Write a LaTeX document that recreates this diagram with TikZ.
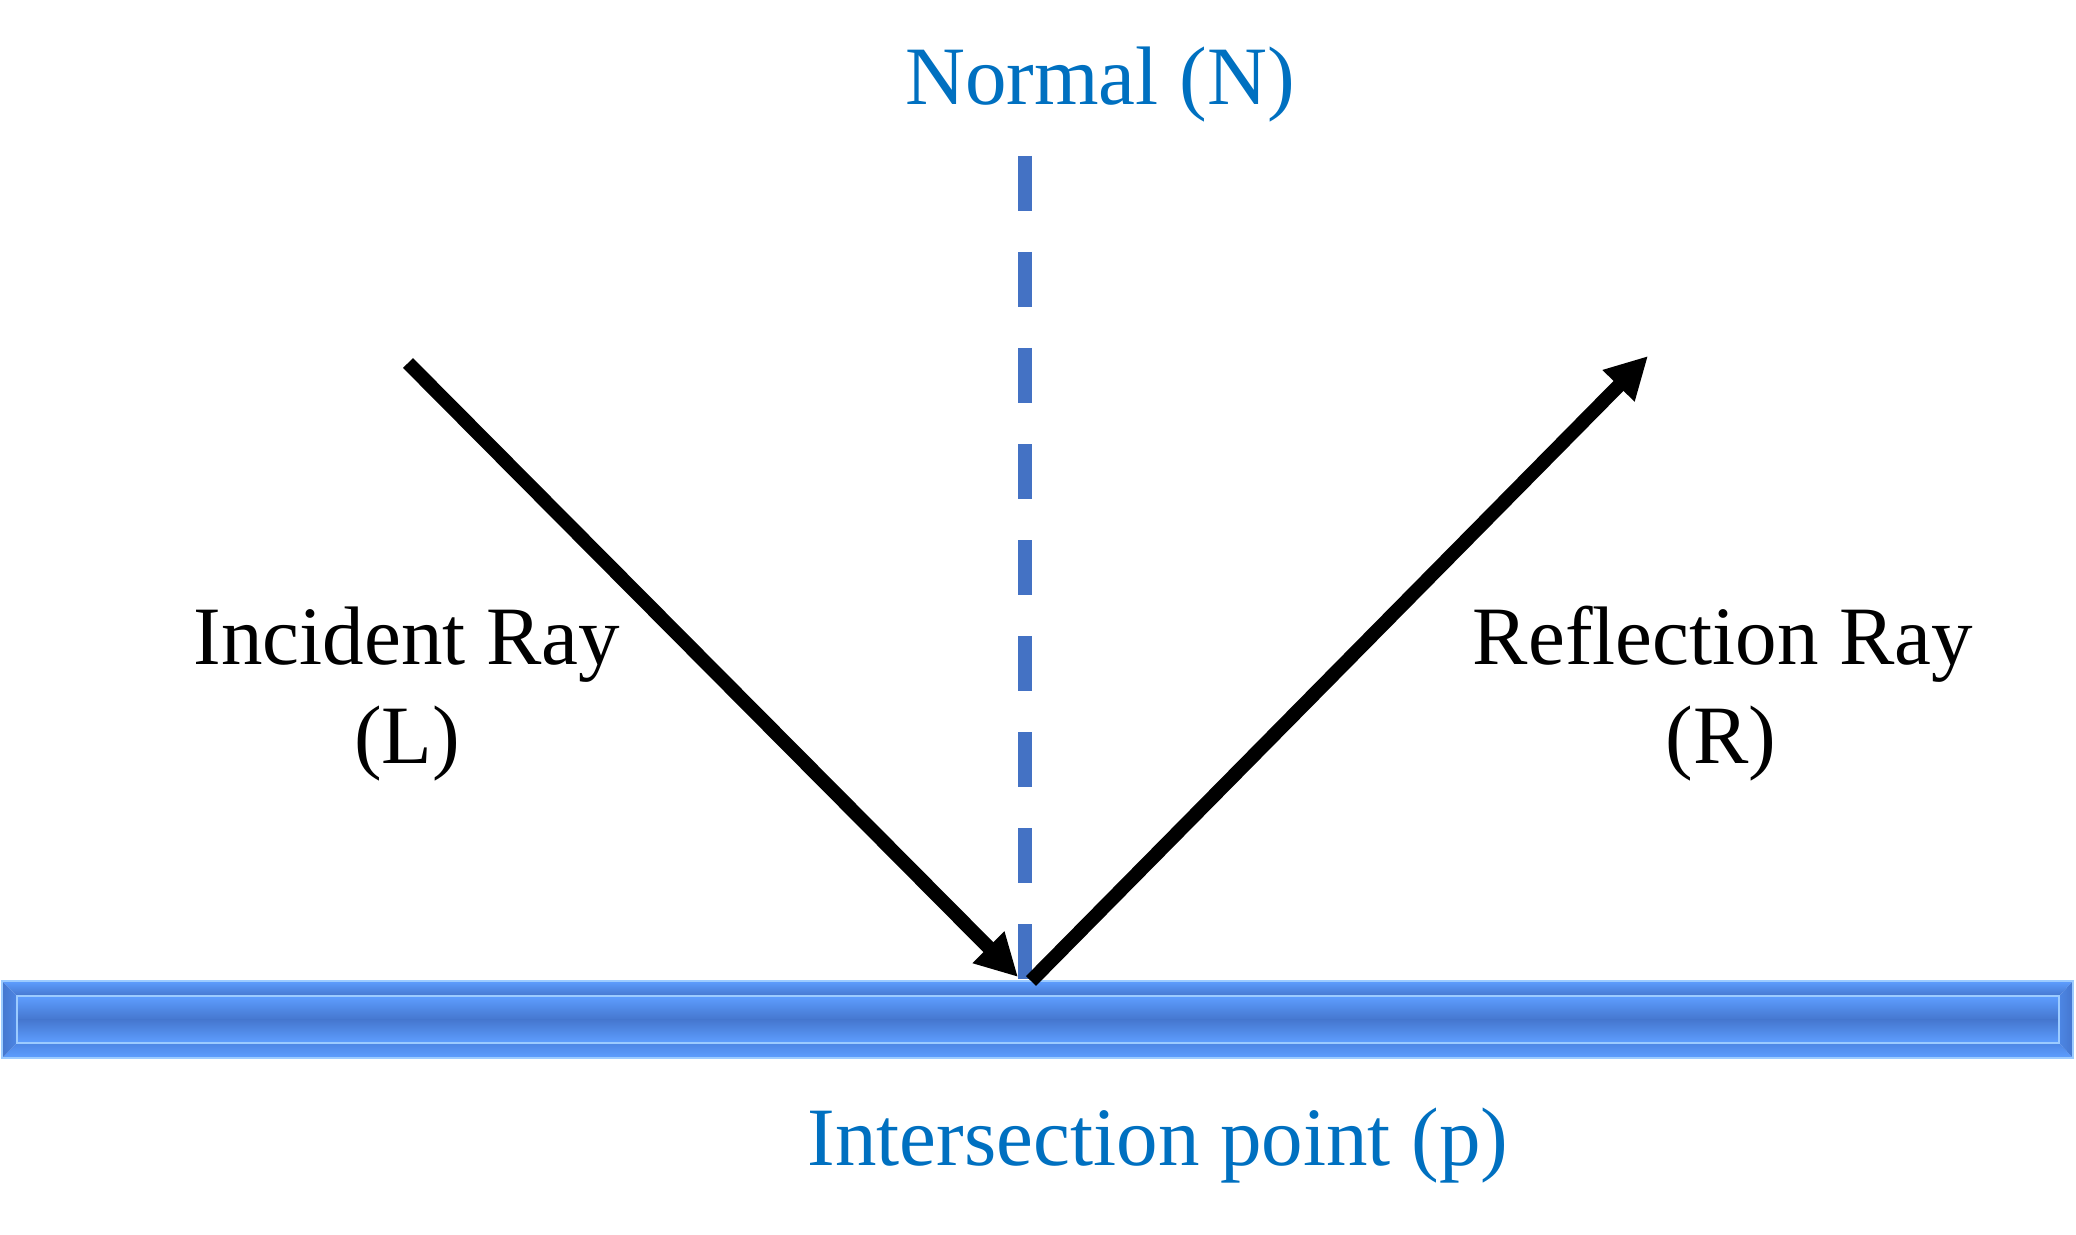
\documentclass[tikz,border=0pt]{standalone}
\usepackage{fontspec}
\setmainfont{Liberation Serif}
\usetikzlibrary{arrows.meta}
\definecolor{txtblue}{HTML}{0070C0}
\definecolor{normblue}{HTML}{4472C4}
\definecolor{barlight}{HTML}{5E9EFF}
\definecolor{bardark}{HTML}{4577CF}
\definecolor{barmid}{HTML}{4D86E4}
\definecolor{barline}{HTML}{9CCBFF}
\tikzset{
  lbl/.style={anchor=base, inner sep=0pt, font=\fontsize{41.5}{49}\selectfont},
  bluelbl/.style={lbl, text=txtblue},
  ray/.style={line width=7pt, line cap=butt, -{Triangle[length=21pt,width=21pt]}},
  normalline/.style={draw=normblue, line width=7pt, dash pattern=on 27.5pt off 20.5pt},
}
\begin{document}
\begin{tikzpicture}[x=0.5pt,y=-0.5pt]
\useasboundingbox (0,0) rectangle (2076,1235);
% mirror bar
\shade[top color=barlight, bottom color=bardark] (2,981) -- (2073,981) -- (2059,996) -- (17,996) -- cycle;
\shade[top color=barmid, bottom color=barlight] (2,1058) -- (2073,1058) -- (2059,1043) -- (17,1043) -- cycle;
\shade[left color=bardark, right color=barmid] (2,981) -- (17,996) -- (17,1043) -- (2,1058) -- cycle;
\shade[left color=barmid, right color=bardark] (2073,981) -- (2059,996) -- (2059,1043) -- (2073,1058) -- cycle;
\shade[top color=barlight, bottom color=bardark] (17,996) rectangle (2059,1019.5);
\shade[top color=bardark, bottom color=barlight] (17,1019.5) rectangle (2059,1043);
\draw[barline, line width=1pt] (17,996) rectangle (2059,1043);
\draw[barline, line width=1pt] (2,981) rectangle (2073,1058);
% normal
\coordinate (ntop) at (1025,156);
\coordinate (nbot) at (1025,981);
\draw[normalline] (ntop) -- (nbot);
% rays
\coordinate (Lstart) at (408,363);
\coordinate (Ltip) at (1018,977);
\coordinate (Rstart) at (1031,981);
\coordinate (Rtip) at (1648,356);
\draw[ray] (Lstart) -- (Ltip);
\draw[ray] (Rstart) -- (Rtip);
% labels
\node[bluelbl] (normal) at (1100,105) {Normal (N)};
\node[lbl] (inc1) at (407,664) {Incident Ray};
\node[lbl] (inc2) at (407,763) {(L)};
\node[lbl] (ref1) at (1723,664) {Reflection Ray};
\node[lbl] (ref2) at (1721,763) {(R)};
\node[bluelbl] (inter) at (1158,1165) {Intersection point (p)};
\end{tikzpicture}
\end{document}
